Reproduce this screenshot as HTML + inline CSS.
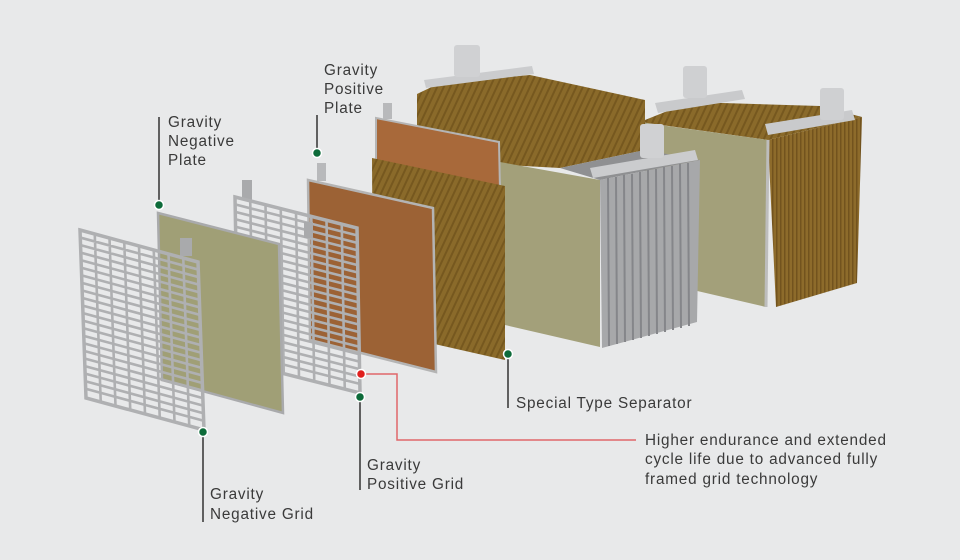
<!DOCTYPE html>
<html><head><meta charset="utf-8"><style>
html,body{margin:0;padding:0;background:#e8e9ea;}
svg{display:block}
text{font-family:"Liberation Sans",sans-serif;font-size:15.3px;fill:#3a3a3a;letter-spacing:0.8px}
</style></head><body>
<svg width="960" height="560" viewBox="0 0 960 560" xmlns="http://www.w3.org/2000/svg">
<defs>
<pattern id="wood" width="6" height="6" patternUnits="userSpaceOnUse" patternTransform="rotate(25)">
<rect width="6" height="6" fill="#8a6a2a"/><rect width="2" height="6" fill="#76581f"/>
</pattern>
<pattern id="woodv" width="4" height="6" patternUnits="userSpaceOnUse">
<rect width="4" height="6" fill="#8d6b2b"/><rect width="1.5" height="6" fill="#72531e"/>
</pattern>
</defs>
<rect width="960" height="560" fill="#e8e9ea"/>

<!-- Block 2 (back right) -->
<polygon points="640,122 690,102 820,106 862,117 768,140" fill="url(#wood)"/>
<polygon points="638,122 768,140 766,307 693,290 693,180 640,170" fill="#a3a07a"/>
<polygon points="768,140 862,117 857,283 776,307" fill="url(#woodv)"/>
<line x1="768" y1="140" x2="766" y2="307" stroke="#bdbdbd" stroke-width="3"/>
<polygon points="655,103 742,90 745,99 658,113" fill="#c9cacc"/>
<rect x="683" y="66" width="24" height="32" rx="3" fill="#cfd0d2"/>
<polygon points="765,124 852,110 855,120 768,135" fill="#c9cacc"/>
<rect x="820" y="88" width="24" height="32" rx="3" fill="#cfd0d2"/>

<!-- Block 1 -->
<polygon points="417,94 440,83 530,75 645,100 645,150 560,168 417,160" fill="url(#wood)"/>
<polygon points="500,162 600,180 600,347 505,325" fill="#a3a07a"/>
<polygon points="560,168 645,150 700,160 600,180" fill="#8f9092"/>
<polygon points="600,180 700,160 697,322 602,348" fill="#a7a8aa"/>
<g stroke="#85868a" stroke-width="2">
<line x1="608" y1="178" x2="609" y2="346"/><line x1="616" y1="177" x2="617" y2="344"/>
<line x1="624" y1="175" x2="625" y2="342"/><line x1="632" y1="174" x2="633" y2="340"/>
<line x1="640" y1="172" x2="641" y2="338"/><line x1="648" y1="170" x2="649" y2="336"/>
<line x1="656" y1="169" x2="657" y2="334"/><line x1="664" y1="167" x2="665" y2="332"/>
<line x1="672" y1="166" x2="673" y2="330"/><line x1="680" y1="164" x2="681" y2="328"/>
<line x1="688" y1="163" x2="689" y2="326"/>
</g>
<polygon points="590,168 695,150 698,160 593,178" fill="#cbccce"/>
<rect x="640" y="124" width="24" height="34" rx="3" fill="#d0d1d3"/>
<polygon points="424,80 532,66 534,74 426,88" fill="#cbccce"/>
<rect x="454" y="45" width="26" height="32" rx="3" fill="#d0d1d3"/>

<!-- back positive plate -->
<polygon points="376,118 499,142 500,190 376,165" fill="#a8693a" stroke="#b5b5b5" stroke-width="2"/>
<rect x="383" y="103" width="9" height="16" fill="#b8b9bb"/>
<!-- separator -->
<polygon points="372,158 505,186 505,360 373,330" fill="url(#wood)"/>

<!-- positive plate -->
<polygon points="308,180 433,208 436,372 310,340" fill="#9c6235" stroke="#b4b4b4" stroke-width="2.5"/>
<rect x="317" y="163" width="9" height="18" fill="#b8b9bb"/>

<!-- positive grid -->
<rect x="242" y="180" width="10" height="20" fill="#a9aaac"/>
<g transform="matrix(122,31,3,165,235,197)" fill="none" stroke="#afb0b2">
<rect x="0" y="0" width="1" height="1" vector-effect="non-scaling-stroke" stroke-width="3.5"/>
<path vector-effect="non-scaling-stroke" stroke-width="2.6" d="M0 .045H1M0 .09H1M0 .135H1M0 .18H1M0 .225H1M0 .27H1M0 .315H1M0 .36H1M0 .405H1M0 .45H1M0 .495H1M0 .54H1M0 .585H1M0 .63H1M0 .675H1M0 .72H1M0 .765H1M0 .81H1M0 .855H1M0 .9H1M0 .945H1M.125 0V1M.25 0V1M.375 0V1M.5 0V1M.625 0V1M.75 0V1M.875 0V1"/>
</g>

<!-- negative plate -->
<rect x="304" y="222" width="9" height="16" fill="#a9aaac"/>
<polygon points="158,213 279,244 283,413 162,380" fill="#a09f76" stroke="#a9aaac" stroke-width="2.5"/>
<rect x="180" y="238" width="12" height="18" fill="#a9aaac"/>

<!-- negative grid -->
<g transform="matrix(118,32,6,168,80,230)" fill="none" stroke="#afb0b2">
<rect x="0" y="0" width="1" height="1" vector-effect="non-scaling-stroke" stroke-width="3.5"/>
<path vector-effect="non-scaling-stroke" stroke-width="2.6" d="M0 .045H1M0 .09H1M0 .135H1M0 .18H1M0 .225H1M0 .27H1M0 .315H1M0 .36H1M0 .405H1M0 .45H1M0 .495H1M0 .54H1M0 .585H1M0 .63H1M0 .675H1M0 .72H1M0 .765H1M0 .81H1M0 .855H1M0 .9H1M0 .945H1M.125 0V1M.25 0V1M.375 0V1M.5 0V1M.625 0V1M.75 0V1M.875 0V1"/>
</g>

<!-- leaders -->
<g stroke="#333" stroke-width="1.5" fill="none">
<line x1="159" y1="117" x2="159" y2="205"/>
<line x1="317" y1="115" x2="317" y2="152"/>
<line x1="508" y1="354" x2="508" y2="408"/>
<line x1="360" y1="397" x2="360" y2="490"/>
<line x1="203" y1="432" x2="203" y2="522"/>
</g>
<polyline points="361,374 397,374 397,440 636,440" fill="none" stroke="#e0676a" stroke-width="1.5"/>
<g stroke="#fff" stroke-width="1.5" fill="#0d6b3a">
<circle cx="159" cy="205" r="4.5"/><circle cx="317" cy="153" r="4.5"/>
<circle cx="508" cy="354" r="4.5"/><circle cx="360" cy="397" r="4.5"/>
<circle cx="203" cy="432" r="4.5"/>
<circle cx="361" cy="374" r="4.5" fill="#e0201e"/>
</g>

<text x="168" y="127">Gravity</text><text x="168" y="146">Negative</text><text x="168" y="165">Plate</text>
<text x="324" y="75">Gravity</text><text x="324" y="94">Positive</text><text x="324" y="113">Plate</text>
<text x="516" y="408">Special Type Separator</text>
<text x="645" y="445">Higher endurance and extended</text>
<text x="645" y="464">cycle life due to advanced fully</text>
<text x="645" y="484">framed grid technology</text>
<text x="367" y="470">Gravity</text><text x="367" y="489">Positive Grid</text>
<text x="210" y="499">Gravity</text><text x="210" y="519">Negative Grid</text>
</svg>
</body></html>
